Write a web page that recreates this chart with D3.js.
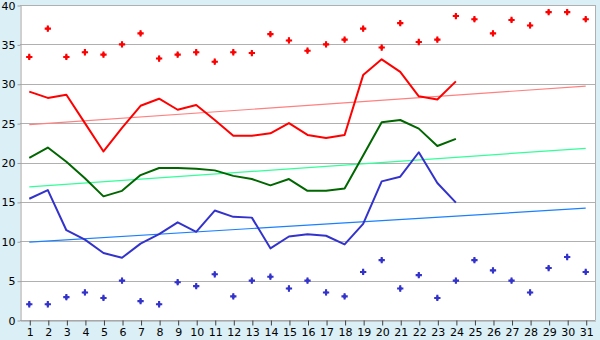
<!DOCTYPE html>
<html>
<head>
<meta charset="utf-8">
<script src="https://cdn.jsdelivr.net/npm/d3@7"></script>
<style>
  body { margin: 0; background: #daeff6; }
  #chart { width: 600px; height: 340px; }
</style>
</head>
<body>
<div id="chart"></div>
<script>
// days of the month
var days = d3.range(1, 32);

// red series (line only for days 1-24)
var redLine = [29.0, 28.2, 28.6, 25.0, 21.4, 24.4, 27.2, 28.1, 26.7, 27.3, 25.4, 23.4, 23.4, 23.7, 25.0, 23.5, 23.1, 23.5, 31.1, 33.1, 31.5, 28.4, 28.0, 30.3];
var redDots = [33.4, 37.0, 33.4, 34.0, 33.7, 35.0, 36.4, 33.2, 33.7, 34.0, 32.8, 34.0, 33.9, 36.3, 35.5, 34.2, 35.0, 35.6, 37.0, 34.6, 37.7, 35.3, 35.6, 38.6, 38.2, 36.4, 38.1, 37.4, 39.1, 39.1, 38.2];

// green series
var greenLine = [20.6, 21.9, 20.1, 18.0, 15.7, 16.4, 18.4, 19.3, 19.3, 19.2, 19.0, 18.3, 17.9, 17.1, 17.9, 16.4, 16.4, 16.7, 20.9, 25.1, 25.4, 24.3, 22.1, 23.0];

// blue series
var blueLine = [15.4, 16.5, 11.4, 10.2, 8.5, 7.9, 9.7, 10.9, 12.4, 11.2, 13.9, 13.1, 13.0, 9.1, 10.6, 10.9, 10.7, 9.6, 12.2, 17.6, 18.2, 21.3, 17.4, 14.9];
var blueDots = [2.0, 2.0, 2.9, 3.5, 2.8, 5.0, 2.4, 2.0, 4.8, 4.3, 5.8, 3.0, 5.0, 5.5, 4.0, 5.0, 3.5, 3.0, 6.1, 7.6, 4.0, 5.7, 2.8, 5.0, 7.6, 6.3, 5.0, 3.5, 6.6, 8.0, 6.1];

// trend lines, start (day 1) and end (day 31)
var trendDays = [1, 31];
var redTrend = [24.8, 29.7];
var greenTrend = [16.9, 21.8];
var blueTrend = [9.9, 14.2];

var yTicks = [0, 5, 10, 15, 20, 25, 30, 35, 40];

var width = 600, height = 340;
var plotLeft = 20, plotRight = 595, plotTop = 5, plotBottom = 320;

var svg = d3.select("#chart")
  .append("svg")
  .attr("width", width)
  .attr("height", height)
  .style("font-family", "'DejaVu Sans', Verdana, sans-serif")
  .style("font-size", "11px");

var x = d3.scalePoint().domain(days).range([plotLeft, plotRight]).padding(0.5);
var y = d3.scaleLinear().domain([0, 40]).range([plotBottom, plotTop]);

// white plot area
svg.append("rect")
  .attr("x", plotLeft).attr("y", plotTop)
  .attr("width", plotRight - plotLeft).attr("height", plotBottom - plotTop)
  .attr("fill", "#fff");

// grid lines
svg.append("g")
  .selectAll("line")
  .data(yTicks)
  .enter().append("line")
    .attr("x1", plotLeft).attr("x2", plotRight)
    .attr("y1", function(d) { return Math.round(y(d)) + 0.5; })
    .attr("y2", function(d) { return Math.round(y(d)) + 0.5; })
    .attr("stroke", "#b0b0b0");

// right border
svg.append("line")
  .attr("x1", plotRight + 0.5).attr("x2", plotRight + 0.5)
  .attr("y1", plotTop).attr("y2", plotBottom)
  .attr("stroke", "#b0b0b0");

// y axis
var yAxis = svg.append("g")
  .attr("transform", "translate(" + (plotLeft + 0.5) + ",0.5)")
  .call(d3.axisLeft(y).tickValues(yTicks).tickSize(3).tickSizeOuter(0).tickPadding(2));
yAxis.select(".domain").attr("stroke", "#a0a0a0");
yAxis.selectAll(".tick line").attr("stroke", "#a0a0a0");
yAxis.selectAll("text")
  .attr("fill", "#000")
  .style("font-size", "11px")
  .style("font-family", "'DejaVu Sans', Verdana, sans-serif");

// x axis
var xAxis = svg.append("g")
  .attr("transform", "translate(0.5," + (plotBottom + 0.5) + ")")
  .call(d3.axisBottom(x).tickSize(5).tickPadding(3).tickSizeOuter(0));
xAxis.select(".domain").attr("stroke", "#a0a0a0");
xAxis.selectAll(".tick line").attr("stroke", "#404040");
xAxis.selectAll("text")
  .attr("fill", "#000")
  .style("font-size", "11px")
  .style("font-family", "'DejaVu Sans', Verdana, sans-serif");

// trend lines
var trends = [
  {vals: redTrend, color: "#ff8080"},
  {vals: greenTrend, color: "#33ff99"},
  {vals: blueTrend, color: "#1a80ff"}
];
var line = d3.line()
  .x(function(d) { return x(d[0]); })
  .y(function(d) { return y(d[1]); });

trends.forEach(function(t) {
  svg.append("path")
    .datum(trendDays.map(function(d, i) { return [d, t.vals[i]]; }))
    .attr("d", line)
    .attr("fill", "none")
    .attr("stroke", t.color)
    .attr("stroke-width", 1.2);
});

// main lines
var series = [
  {vals: redLine, color: "#ff0000"},
  {vals: greenLine, color: "#006600"},
  {vals: blueLine, color: "#3333cc"}
];
series.forEach(function(s) {
  svg.append("path")
    .datum(s.vals.map(function(v, i) { return [days[i], v]; }))
    .attr("d", line)
    .attr("fill", "none")
    .attr("stroke", s.color)
    .attr("stroke-width", 2)
    .attr("stroke-linejoin", "round");
});

// dot markers (plus sign with a small diamond on top)
var cross = d3.symbol().type(d3.symbolCross).size(22);
var diamond = d3.symbol().type(d3.symbolDiamond).size(12);
var dots = [
  {vals: redDots, color: "#ff0000"},
  {vals: blueDots, color: "#3333cc"}
];
dots.forEach(function(s) {
  var g = svg.append("g")
    .selectAll("g")
    .data(s.vals)
    .enter().append("g")
      .attr("transform", function(d, i) { return "translate(" + x(days[i]) + "," + y(d) + ")"; })
      .attr("fill", s.color);
  g.append("path").attr("d", cross);
  g.append("path").attr("d", diamond);
});
</script>
</body>
</html>
